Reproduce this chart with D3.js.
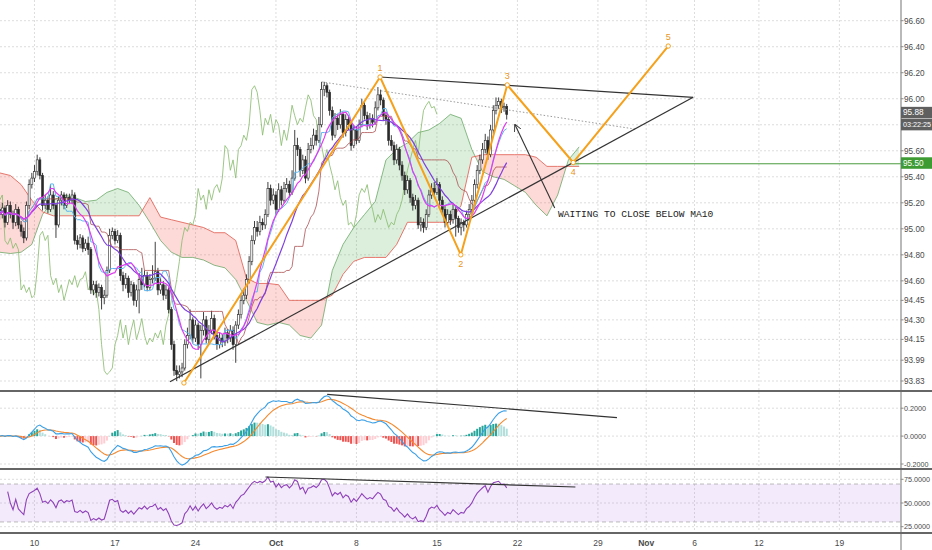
<!DOCTYPE html>
<html>
<head>
<meta charset="utf-8">
<script src="https://cdn.jsdelivr.net/npm/d3@7"></script>
<style>
body { margin: 0; background: #fff; }
svg { display: block; font-family: "Liberation Sans", Arial, sans-serif; }
</style>
</head>
<body>
<svg id="chart" width="932" height="550"></svg>
<script>
// 4h bars, bar 13 = Mon Sep 10 00:00, six bars per trading day
var firstOpen = 95.15;
var closes = [
  95.11, 95.16, 95.05, 95.18, 95.11, 95.05, 95.15, 95.03, 94.98, 94.93,
  95.18, 95.34, 95.39, 95.44, 95.53, 95.41, 95.18, 95.22, 95.15, 95.26,
  95.18, 95.03, 95.22, 95.26, 95.18, 95.24, 95.22, 95.26, 94.91, 94.88,
  94.93, 94.85, 94.89, 94.84, 94.53, 94.57, 94.51, 94.55, 94.47, 94.49,
  94.68, 94.95, 94.98, 94.91, 94.95, 94.64, 94.57, 94.62, 94.51, 94.57,
  94.45, 94.53, 94.61, 94.57, 94.64, 94.55, 94.61, 94.62, 94.67, 94.53,
  94.57, 94.49, 94.53, 94.38, 94.11, 93.91, 93.88, 93.90, 93.93, 94.11,
  94.18, 94.30, 94.16, 94.26, 94.11, 94.22, 94.30, 94.15, 94.22, 94.31,
  94.18, 94.11, 94.16, 94.13, 94.20, 94.16, 94.22, 94.11, 94.26, 94.34,
  94.45, 94.49, 94.61, 94.75, 94.91, 95.01, 94.98, 95.05, 95.03, 95.11,
  95.31, 95.22, 95.26, 95.15, 95.30, 95.22, 95.31, 95.34, 95.28, 95.39,
  95.64, 95.61, 95.45, 95.53, 95.39, 95.61, 95.64, 95.72, 95.68, 95.80,
  96.07, 96.10, 96.05, 95.91, 95.72, 95.85, 95.80, 95.88, 95.74, 95.84,
  95.80, 95.64, 95.76, 95.68, 95.80, 95.95, 95.87, 95.80, 95.85, 95.82,
  95.93, 96.03, 95.99, 95.87, 95.84, 95.68, 95.64, 95.53, 95.61, 95.49,
  95.41, 95.30, 95.37, 95.24, 95.18, 95.22, 95.03, 95.05, 95.01, 95.11,
  95.26, 95.31, 95.28, 95.34, 95.22, 95.15, 95.05, 95.11, 95.07, 95.15,
  95.08, 95.01, 95.05, 95.03, 95.11, 95.15, 95.22, 95.34, 95.45, 95.53,
  95.61, 95.68, 95.57, 95.76, 95.91, 95.95, 95.98, 95.93, 95.94, 95.88
];
var highs = [
  95.19, 95.20, 95.18, 95.22, 95.21, 95.14, 95.19, 95.17, 95.06, 95.01,
  95.21, 95.38, 95.43, 95.49, 95.57, 95.55, 95.43, 95.26, 95.25, 95.34,
  95.29, 95.20, 95.25, 95.29, 95.28, 95.27, 95.27, 95.30, 95.28, 94.95,
  94.96, 94.95, 94.92, 94.94, 94.86, 94.60, 94.60, 94.58, 94.57, 94.53,
  94.71, 95.00, 95.01, 95.00, 94.99, 94.97, 94.67, 94.66, 94.64, 94.60,
  94.59, 94.57, 94.66, 94.70, 94.68, 94.67, 94.65, 94.72, 94.90, 94.70,
  94.62, 94.60, 94.57, 94.55, 94.40, 94.14, 93.95, 93.95, 93.97, 94.15,
  94.24, 94.38, 94.32, 94.30, 94.28, 94.26, 94.36, 94.33, 94.26, 94.37,
  94.34, 94.21, 94.20, 94.19, 94.24, 94.23, 94.26, 94.25, 94.29, 94.38,
  94.49, 94.54, 94.65, 94.79, 94.95, 95.06, 95.06, 95.10, 95.08, 95.15,
  95.36, 95.34, 95.31, 95.29, 95.35, 95.33, 95.36, 95.39, 95.37, 95.45,
  95.76, 95.70, 95.63, 95.57, 95.56, 95.66, 95.70, 95.77, 95.76, 95.86,
  96.13, 96.13, 96.12, 96.07, 95.94, 95.89, 95.88, 95.92, 95.90, 95.88,
  95.87, 95.82, 95.80, 95.79, 95.84, 96.00, 95.98, 95.90, 95.89, 95.88,
  95.98, 96.09, 96.07, 96.01, 95.90, 95.86, 95.72, 95.67, 95.65, 95.63,
  95.52, 95.44, 95.41, 95.39, 95.27, 95.26, 95.24, 95.09, 95.08, 95.15,
  95.30, 95.35, 95.36, 95.39, 95.36, 95.25, 95.18, 95.15, 95.14, 95.19,
  95.18, 95.10, 95.08, 95.07, 95.14, 95.19, 95.26, 95.38, 95.49, 95.57,
  95.66, 95.73, 95.71, 95.80, 95.95, 96.01, 96.01, 96.00, 95.97, 95.96
];
var lows = [
  95.07, 95.08, 95.01, 95.03, 95.08, 95.00, 95.02, 95.00, 94.94, 94.89,
  94.91, 95.15, 95.31, 95.36, 95.41, 95.38, 95.14, 95.15, 95.12, 95.13,
  95.15, 94.93, 95.01, 95.18, 95.15, 95.16, 95.19, 95.19, 94.88, 94.84,
  94.85, 94.82, 94.83, 94.80, 94.50, 94.49, 94.47, 94.48, 94.38, 94.42,
  94.47, 94.66, 94.92, 94.88, 94.89, 94.60, 94.52, 94.54, 94.47, 94.48,
  94.41, 94.40, 94.35, 94.53, 94.55, 94.52, 94.53, 94.58, 94.60, 94.49,
  94.50, 94.45, 94.46, 94.35, 94.07, 93.87, 93.83, 93.85, 93.86, 93.91,
  94.08, 94.15, 94.12, 94.13, 94.07, 93.85, 94.18, 94.12, 94.12, 94.19,
  94.15, 94.07, 94.08, 94.09, 94.10, 94.12, 94.13, 94.07, 93.97, 94.23,
  94.31, 94.42, 94.46, 94.58, 94.72, 94.88, 94.94, 94.95, 94.99, 95.00,
  95.09, 95.18, 95.19, 95.11, 95.13, 95.18, 95.20, 95.28, 95.24, 95.26,
  95.37, 95.56, 95.40, 95.42, 95.35, 95.37, 95.58, 95.61, 95.64, 95.66,
  95.78, 96.02, 96.01, 95.87, 95.68, 95.70, 95.76, 95.77, 95.70, 95.71,
  95.76, 95.60, 95.62, 95.65, 95.66, 95.78, 95.84, 95.76, 95.77, 95.78,
  95.80, 95.91, 95.95, 95.83, 95.80, 95.64, 95.60, 95.49, 95.50, 95.45,
  95.37, 95.26, 95.27, 95.20, 95.14, 95.15, 95.00, 94.98, 94.97, 94.99,
  95.09, 95.23, 95.25, 95.26, 95.18, 95.11, 95.01, 95.02, 95.03, 95.04,
  94.94, 94.97, 94.95, 94.98, 95.01, 95.08, 95.12, 95.19, 95.31, 95.42,
  95.50, 95.58, 95.53, 95.55, 95.73, 95.88, 95.92, 95.89, 95.90, 95.84
];

// ichimoku leading spans as drawn (already shifted), one value every 4 bars from bar 0
var spanStep = 4;
var spanA = [
  94.82, 94.81, 94.82, 94.88, 95.11, 95.22, 95.26, 95.24, 95.21, 95.22,
  95.28, 95.31, 95.28, 95.18, 95.05, 94.91, 94.82, 94.78, 94.78, 94.76,
  94.72, 94.70, 94.61, 94.45, 94.28, 94.26, 94.28, 94.26, 94.18, 94.16,
  94.26, 94.68, 94.88, 95.01, 95.11, 95.21, 95.53, 95.61, 95.66, 95.74,
  95.76, 95.81, 95.88, 95.85, 95.61, 95.44, 95.40, 95.38, 95.33, 95.28,
  95.18, 95.10, 95.26, 95.53, 95.63
];
var spanB = [
  95.43, 95.41, 95.34, 95.22, 95.13, 95.10, 95.10, 95.10, 95.10, 95.10,
  95.10, 95.10, 95.10, 95.10, 95.24, 95.09, 95.07, 95.05, 95.03, 95.01,
  94.97, 94.97, 94.91, 94.62, 94.58, 94.58, 94.57, 94.45, 94.45, 94.45,
  94.45, 94.49, 94.65, 94.75, 94.78, 94.78, 94.78, 94.88, 95.05, 95.05,
  95.05, 95.05, 95.05, 95.18, 95.55, 95.57, 95.57, 95.57, 95.57, 95.57,
  95.55, 95.48, 95.48, 95.48, 95.48
];

var priceTicks = [96.60, 96.40, 96.20, 96.00, 95.80, 95.60, 95.40, 95.20, 95.00, 94.80, 94.60, 94.45, 94.30, 94.15, 93.99, 93.83];
var priceLabels = [96.60, 96.40, 96.20, 96.00, 95.60, 95.40, 95.20, 95.00, 94.80, 94.60, 94.45, 94.30, 94.15, 93.99, 93.83];
var macdTicks = [0.2, 0, -0.2];
var rsiTicks = [75, 50, 25];
var dateTicks = [13, 43, 73, 103, 133, 163, 193, 223, 241, 259, 283, 313];
var dateLabels = ["10", "17", "24", "Oct", "8", "15", "22", "29", "Nov", "6", "12", "19"];

// drawings, as [bar, value]
var wavePts = [[68.7, 93.815], [141.8, 96.167], [171.9, 94.80], [189.2, 96.106], [213.8, 95.51], [249.2, 96.405]];
var waveLabels = ["", "1", "2", "3", "4", "5"];
var waveSide = [0, -1, 1, -1, 1, -1];
var wedgeTop = [[141.8, 96.167], [258.5, 96.011]];
var wedgeBottom = [[63.5, 93.824], [258.5, 96.011]];
var dottedTrend = [[120.2, 96.129], [236.8, 95.767]];
var arrowLine = [[206.9, 95.16], [192.1, 95.80]];
var noteAt = [208.1, 95.09];
var noteText = "WAITING TO CLOSE BELOW MA10";
var macdTrend = [[122.1, 0.299], [230.1, 0.133]];
var rsiTrend = [[99.1, 77.4], [214.6, 66.9]];
var lastPrice = 95.88, timerText = "03:22:25";
var levelPrice = 95.50, levelStart = 213.8;

var svg = d3.select("#chart");
var W = 932, axisX = 901;
var x = d3.scaleLinear().domain([0, 336]).range([-0.38, 901.1]);
var y = d3.scaleLinear().domain([96.60, 93.83]).range([20.7, 381]);
var yM = d3.scaleLinear().domain([0.2, -0.2]).range([408.2, 464]);
var yR = d3.scaleLinear().domain([75, 25]).range([479.3, 526.7]);

var n = closes.length;
var opens = closes.map(function(c, i) { return i ? closes[i - 1] : firstOpen; });

// indicators from the bars
function sma(k) {
  return closes.map(function(c, i) {
    var s = Math.max(0, i - k + 1);
    return d3.mean(closes.slice(s, i + 1));
  });
}
function midpoint(k) {
  return closes.map(function(c, i) {
    var s = Math.max(0, i - k + 1);
    return (d3.max(highs.slice(s, i + 1)) + d3.min(lows.slice(s, i + 1))) / 2;
  });
}
function ema(arr, k) {
  var a = 2 / (k + 1), out = [], prev;
  arr.forEach(function(v, i) { prev = i ? prev + a * (v - prev) : v; out.push(prev); });
  return out;
}
var ma10 = sma(10), ma20 = sma(20);
var tenkan = midpoint(9), kijun = midpoint(26);
var e12 = ema(closes, 12), e26 = ema(closes, 26);
var macd = e12.map(function(v, i) { return v - e26[i]; });
var signal = ema(macd, 9);
var hist = macd.map(function(v, i) { return v - signal[i]; });
var rsi = [], ag = 0, al = 0;
closes.forEach(function(c, i) {
  if (!i) { rsi.push(null); return; }
  var ch = c - closes[i - 1], g = Math.max(ch, 0), l = Math.max(-ch, 0);
  if (i <= 14) { ag = (ag * (i - 1) + g) / i; al = (al * (i - 1) + l) / i; }
  else { ag = (ag * 13 + g) / 14; al = (al * 13 + l) / 14; }
  // too few changes before bar 3 for a usable value
  rsi.push(i < 3 ? null : 100 - 100 / (1 + ag / al));
});

var defs = svg.append("defs");
function clip(id, y0, y1) {
  defs.append("clipPath").attr("id", id).append("rect")
    .attr("x", 0).attr("y", y0).attr("width", axisX).attr("height", y1 - y0);
}
clip("cPrice", 0, 390);
clip("cMacd", 392, 468);
clip("cRsi", 470, 532);
defs.append("marker").attr("id", "arrowHead").attr("viewBox", "0 0 10 10")
  .attr("refX", 9).attr("refY", 5).attr("markerWidth", 7).attr("markerHeight", 7)
  .attr("orient", "auto").attr("markerUnits", "userSpaceOnUse")
  .append("path").attr("d", "M0,0L10,5L0,10").attr("fill", "none")
  .attr("stroke", "#333").attr("stroke-width", 1.3);

// grid
var grid = svg.append("g").attr("stroke", "#d4d4d4").attr("stroke-width", 0.8).attr("stroke-dasharray", "2,2");
grid.selectAll("line.v").data(dateTicks).join("line")
  .attr("x1", function(d) { return x(d); }).attr("x2", function(d) { return x(d); })
  .attr("y1", 0).attr("y2", 533);
grid.selectAll("line.hp").data(priceTicks).join("line").attr("class", "hp")
  .attr("x1", 0).attr("x2", axisX)
  .attr("y1", function(d) { return y(d); }).attr("y2", function(d) { return y(d); });
grid.selectAll("line.hm").data(macdTicks).join("line").attr("class", "hm")
  .attr("x1", 0).attr("x2", axisX)
  .attr("y1", function(d) { return yM(d); }).attr("y2", function(d) { return yM(d); });
grid.selectAll("line.hr").data(rsiTicks).join("line").attr("class", "hr")
  .attr("x1", 0).attr("x2", axisX)
  .attr("y1", function(d) { return yR(d); }).attr("y2", function(d) { return yR(d); });

// ---- price panel
var pg = svg.append("g").attr("clip-path", "url(#cPrice)");

var cloudPts = spanA.map(function(a, i) { return { i: i * spanStep, a: a, b: spanB[i] }; });
defs.append("clipPath").attr("id", "cAbove").append("path")
  .attr("d", d3.area().x(function(d) { return x(d.i); }).y0(0).y1(function(d) { return y(d.b); })(cloudPts));
defs.append("clipPath").attr("id", "cBelow").append("path")
  .attr("d", d3.area().x(function(d) { return x(d.i); }).y0(390).y1(function(d) { return y(d.b); })(cloudPts));
var band = d3.area().x(function(d) { return x(d.i); })
  .y0(function(d) { return y(d.a); }).y1(function(d) { return y(d.b); });
pg.append("path").attr("d", band(cloudPts)).attr("fill", "rgba(76,175,80,0.2)").attr("clip-path", "url(#cAbove)");
pg.append("path").attr("d", band(cloudPts)).attr("fill", "rgba(244,67,54,0.2)").attr("clip-path", "url(#cBelow)");
pg.append("path").attr("d", d3.line().x(function(d) { return x(d.i); }).y(function(d) { return y(d.a); })(cloudPts))
  .attr("fill", "none").attr("stroke", "#5a9e55").attr("stroke-opacity", 0.7).attr("stroke-width", 1);
pg.append("path").attr("d", d3.line().x(function(d) { return x(d.i); }).y(function(d) { return y(d.b); })(cloudPts))
  .attr("fill", "none").attr("stroke", "#e2574c").attr("stroke-opacity", 0.8).attr("stroke-width", 1);

function seriesLine(vals, sx, sy, shift) {
  return d3.line().defined(function(d) { return d != null; })
    .x(function(d, i) { return sx(i + (shift || 0)); }).y(function(d) { return sy(d); })(vals);
}
// lagging span
pg.append("path").attr("d", seriesLine(closes.slice(26), x, y, 0))
  .attr("fill", "none").attr("stroke", "#8cbd72").attr("stroke-width", 1).attr("stroke-opacity", 0.85);

// candles
var cg = pg.append("g");
cg.selectAll("line").data(closes).join("line")
  .attr("x1", function(d, i) { return x(i); }).attr("x2", function(d, i) { return x(i); })
  .attr("y1", function(d, i) { return y(highs[i]); }).attr("y2", function(d, i) { return y(lows[i]); })
  .attr("stroke", "#2a2a2a").attr("stroke-width", 0.9);
cg.selectAll("rect").data(closes).join("rect")
  .attr("x", function(d, i) { return x(i) - 1; }).attr("width", 2)
  .attr("y", function(d, i) { return y(Math.max(d, opens[i])); })
  .attr("height", function(d, i) { return Math.max(0.8, Math.abs(y(d) - y(opens[i]))); })
  .attr("fill", function(d, i) { return d >= opens[i] ? "#ffffff" : "#2a2a2a"; })
  .attr("stroke", "#2a2a2a").attr("stroke-width", 0.6);

pg.append("path").attr("d", seriesLine(kijun, x, y))
  .attr("fill", "none").attr("stroke", "#a8474a").attr("stroke-opacity", 0.75).attr("stroke-width", 1);
pg.append("path").attr("d", seriesLine(tenkan, x, y))
  .attr("fill", "none").attr("stroke", "#5db6f0").attr("stroke-width", 1);
pg.append("path").attr("d", seriesLine(ma20, x, y))
  .attr("fill", "none").attr("stroke", "#7f3fe0").attr("stroke-width", 1.2);
pg.append("path").attr("d", seriesLine(ma10, x, y))
  .attr("fill", "none").attr("stroke", "#e03cf0").attr("stroke-width", 1.2);

// drawings
function seg(pts, sy) {
  return d3.line().x(function(d) { return x(d[0]); }).y(function(d) { return sy(d[1]); })(pts);
}
var dg = svg.append("g").attr("clip-path", "url(#cPrice)");
dg.append("path").attr("d", seg(dottedTrend, y)).attr("fill", "none")
  .attr("stroke", "#9a9a9a").attr("stroke-width", 1).attr("stroke-dasharray", "1.5,2");
dg.append("line").attr("x1", x(levelStart)).attr("x2", axisX)
  .attr("y1", y(levelPrice)).attr("y2", y(levelPrice)).attr("stroke", "#4a9a3e").attr("stroke-width", 1);
dg.append("path").attr("d", seg(wedgeTop, y)).attr("fill", "none").attr("stroke", "#333").attr("stroke-width", 1.2);
dg.append("path").attr("d", seg(wedgeBottom, y)).attr("fill", "none").attr("stroke", "#333").attr("stroke-width", 1.2);
dg.append("path").attr("d", seg(wavePts, y)).attr("fill", "none")
  .attr("stroke", "#f5a11c").attr("stroke-width", 2).attr("stroke-linejoin", "round");
dg.selectAll("circle").data(wavePts).join("circle")
  .attr("cx", function(d) { return x(d[0]); }).attr("cy", function(d) { return y(d[1]); })
  .attr("r", 2.2).attr("fill", "#fff").attr("stroke", "#f5a11c").attr("stroke-width", 1);
dg.selectAll("text.w").data(wavePts).join("text").attr("class", "w")
  .attr("x", function(d) { return x(d[0]); })
  .attr("y", function(d, i) { return y(d[1]) + waveSide[i] * 9; })
  .attr("dy", "0.35em").attr("text-anchor", "middle")
  .attr("font-size", 9).attr("fill", "#e8951c")
  .text(function(d, i) { return waveLabels[i]; });
dg.append("path").attr("d", seg(arrowLine, y)).attr("fill", "none")
  .attr("stroke", "#333").attr("stroke-width", 1.1).attr("marker-end", "url(#arrowHead)");
dg.append("text").attr("x", x(noteAt[0])).attr("y", y(noteAt[1]))
  .attr("font-family", "'Liberation Mono', 'DejaVu Sans Mono', monospace")
  .attr("font-size", 9.6).attr("fill", "#222").text(noteText);

// ---- MACD panel
var mg = svg.append("g").attr("clip-path", "url(#cMacd)");
mg.selectAll("rect").data(hist).join("rect")
  .attr("x", function(d, i) { return x(i) - 1; }).attr("width", 2)
  .attr("y", function(d) { return Math.min(yM(d), yM(0)); })
  .attr("height", function(d) { return Math.abs(yM(d) - yM(0)); })
  .attr("fill", function(d, i) {
    var p = i ? hist[i - 1] : d;
    if (d >= 0) return d > p ? "#26a69a" : "#b2dfdb";
    return d < p ? "#ef5350" : "#ffcdd2";
  });
mg.append("path").attr("d", seriesLine(signal, x, yM))
  .attr("fill", "none").attr("stroke", "#f4892f").attr("stroke-width", 1.1);
mg.append("path").attr("d", seriesLine(macd, x, yM))
  .attr("fill", "none").attr("stroke", "#3a9fe6").attr("stroke-width", 1.1);
mg.append("path").attr("d", seg(macdTrend, yM)).attr("fill", "none").attr("stroke", "#333").attr("stroke-width", 1.2);

// ---- RSI panel
var rg = svg.append("g").attr("clip-path", "url(#cRsi)");
rg.append("rect").attr("x", 0).attr("width", axisX)
  .attr("y", yR(70)).attr("height", yR(30) - yR(70)).attr("fill", "rgba(155,80,230,0.12)");
rg.selectAll("line").data([70, 30]).join("line")
  .attr("x1", 0).attr("x2", axisX)
  .attr("y1", function(d) { return yR(d); }).attr("y2", function(d) { return yR(d); })
  .attr("stroke", "#a9a9a9").attr("stroke-dasharray", "4,3").attr("stroke-width", 0.8);
rg.append("path").attr("d", seriesLine(rsi, x, yR))
  .attr("fill", "none").attr("stroke", "#8f42b8").attr("stroke-width", 1.1);
rg.append("path").attr("d", seg(rsiTrend, yR)).attr("fill", "none").attr("stroke", "#333").attr("stroke-width", 1.2);

// ---- frame
svg.append("line").attr("x1", axisX).attr("x2", axisX).attr("y1", 0).attr("y2", 550)
  .attr("stroke", "#8a8a8a").attr("stroke-width", 1.2);
svg.selectAll("line.sep").data([391, 469, 533]).join("line").attr("class", "sep")
  .attr("x1", 0).attr("x2", W).attr("y1", function(d) { return d; }).attr("y2", function(d) { return d; })
  .attr("stroke", "#666").attr("stroke-width", 1.8);

// right axis labels
var ax = svg.append("g").attr("fill", "#4a4a4a");
function axisLabels(cls, ticks, sy, fmt, size) {
  ax.selectAll("text." + cls).data(ticks).join("text").attr("class", cls)
    .attr("x", axisX + 3).attr("y", function(d) { return sy(d); }).attr("dy", "0.35em")
    .attr("font-size", size).text(fmt);
  ax.selectAll("line." + cls).data(ticks).join("line").attr("class", cls)
    .attr("x1", axisX).attr("x2", axisX + 2.5)
    .attr("y1", function(d) { return sy(d); }).attr("y2", function(d) { return sy(d); })
    .attr("stroke", "#8a8a8a");
}
axisLabels("tp", priceLabels, y, function(d) { return d.toFixed(2); }, 8.2);
axisLabels("tm", macdTicks, yM, function(d) { return d.toFixed(4); }, 7.2);
axisLabels("tr", rsiTicks, yR, function(d) { return d.toFixed(4); }, 7.2);

function tag(yc, h0, h1, bg, txt, size) {
  svg.append("rect").attr("x", axisX).attr("y", yc + h0).attr("width", W - axisX).attr("height", h1 - h0).attr("fill", bg);
  svg.append("text").attr("x", axisX + 2).attr("y", yc + (h0 + h1) / 2).attr("dy", "0.35em")
    .attr("font-size", size).attr("fill", "#fff").text(txt);
}
tag(y(lastPrice), -7.5, 4, "#5f5f5f", lastPrice.toFixed(2), 8.2);
tag(y(lastPrice), 4.5, 16, "#5f5f5f", timerText, 7.2);
tag(y(levelPrice), -6.5, 5, "#3e9b34", levelPrice.toFixed(2), 8.2);

// date labels
svg.append("g").selectAll("text").data(dateTicks).join("text")
  .attr("x", function(d) { return x(d); }).attr("y", 543).attr("dy", "0.35em")
  .attr("text-anchor", "middle").attr("font-size", 8.5).attr("fill", "#4a4a4a")
  .attr("font-weight", function(d, i) { return /[A-Za-z]/.test(dateLabels[i]) ? "bold" : "normal"; })
  .text(function(d, i) { return dateLabels[i]; });
</script>
</body>
</html>
